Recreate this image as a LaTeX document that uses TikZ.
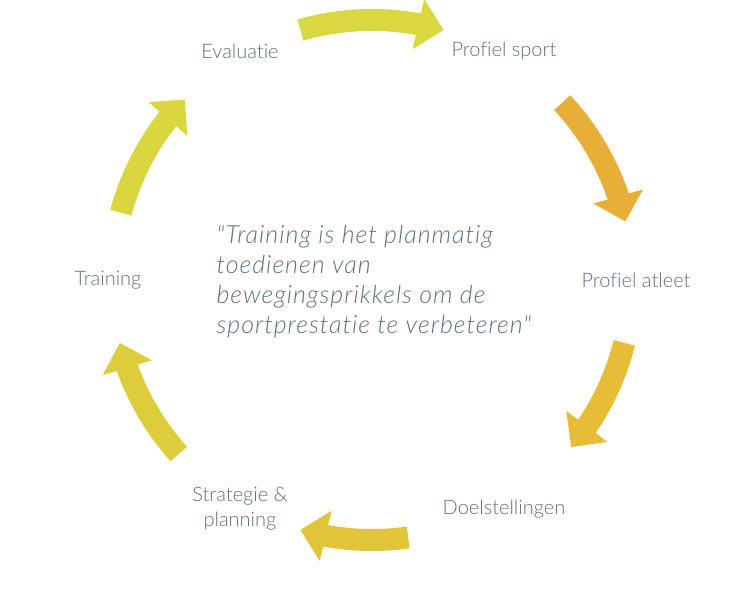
\documentclass[tikz,border=0pt]{standalone}
\usepackage{fontspec}
\setmainfont{Lato Light}[ItalicFont={Lato Light Italic},Ligatures=NoCommon]
\newfontfamily\quotefont{Lato Light Italic}[Ligatures=NoCommon,LetterSpace=4]
\usepackage{tikz}
\usetikzlibrary{arrows.meta,bending}
\definecolor{txt}{HTML}{5F6F7E}
\definecolor{cycA}{HTML}{D9D841}
\definecolor{cycB}{HTML}{E8AF38}
\definecolor{cycC}{HTML}{E5BD36}
\definecolor{cycD}{HTML}{E2C43A}
\definecolor{cycE}{HTML}{DDCD3C}
\definecolor{cycF}{HTML}{D9D640}

\begin{document}
\begin{tikzpicture}[x=1pt,y=1pt,
  lbl/.style={text=txt,font=\fontsize{20}{25}\selectfont,align=center},
  quote/.style={text=txt,font=\quotefont\fontsize{25}{30}\selectfont,align=left},
  cyc/.style={line width=22pt,-{Triangle[length=26pt,width=50pt,flex]}}]
  \useasboundingbox (0,0) rectangle (746,594);
  \coordinate (O) at (372,314);
  % labels round the cycle
  \node[lbl] (sport)  at ([shift={(O)}]60:264)  {Profiel sport};
  \node[lbl] (atleet) at ([shift={(O)}]0:264)   {Profiel atleet};
  \node[lbl] (doel)   at ([shift={(O)}]-60:264) {Doelstellingen};
  \node[lbl] (strat)  at ([shift={(O)}]-120:264) {Strategie \&\\planning};
  \node[lbl] (train)  at ([shift={(O)}]180:264) {Training};
  \node[lbl] (eval)   at ([shift={(O)}]120:264) {Evaluatie};
  % arrows
  \foreach \from/\to/\col in {106/74/cycA,43/13/cycB,-14/-40/cycC,-82/-106/cycD,-138/-166/cycE,165/136/cycF}
    \draw[cyc,\col] ([shift={(O)}]\from:260) arc[start angle=\from,end angle=\to,radius=260];
  % quote
  \node[quote,anchor=west] (def) at (213,312) {"Training is het planmatig\\toedienen van\\bewegingsprikkels om de\\sportprestatie te verbeteren"};
\end{tikzpicture}
\end{document}
